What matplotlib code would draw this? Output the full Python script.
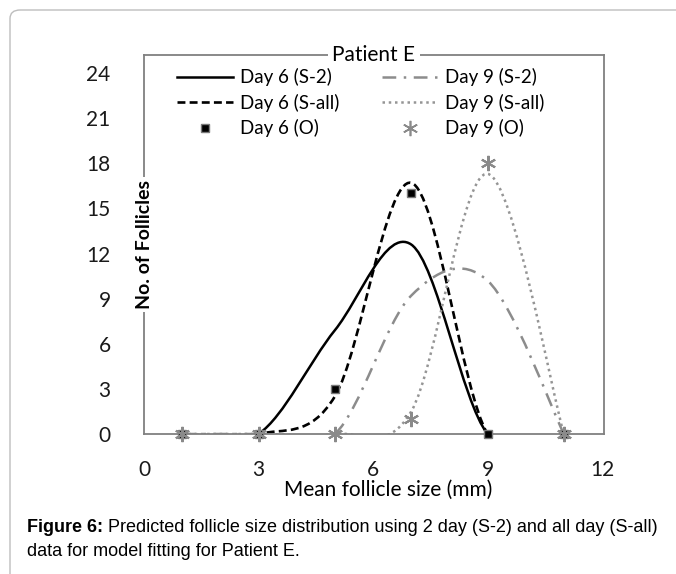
import numpy as np
import matplotlib
matplotlib.use('Agg')
import matplotlib.pyplot as plt
from matplotlib.path import Path
from matplotlib.patches import PathPatch, FancyBboxPatch
from matplotlib.lines import Line2D

# data
sizes = [1, 3, 5, 7, 9, 11]
day6_s2 = [0, 0, 6.9, 12.6, 0, 0]
day6_sall = [0, 0, 2.5, 16.7, 0, 0]
day6_obs = [0, 0, 3, 16, 0, 0]
day9_s2 = [0, 0, 0, 9.2, 10.2, 0]
day9_sall = [0, 0, 0, 1.5, 17.3, 0]
day9_obs = [0, 0, 0, 1, 18, 0]
xticks = [0, 3, 6, 9, 12]
yticks = [0, 3, 6, 9, 12, 15, 18, 21, 24]

plt.rcParams['font.family'] = ['Lato', 'DejaVu Sans']


def smooth_path(xs, ys):
    # Excel-like "smoothed line": cubic bezier through each point
    pts = np.column_stack([xs, ys]).astype(float)
    n = len(pts)
    verts = [pts[0]]
    codes = [Path.MOVETO]
    for i in range(n - 1):
        p0 = pts[max(i - 1, 0)]
        p1 = pts[i]
        p2 = pts[i + 1]
        p3 = pts[min(i + 2, n - 1)]
        verts += [p1 + (p2 - p0) / 6, p2 - (p3 - p1) / 6, p2]
        codes += [Path.CURVE4] * 3
    return Path(verts, codes)


fig = plt.figure(figsize=(6.76, 5.74), dpi=100)

# outer rounded frame of the figure panel
frame = FancyBboxPatch((10 / 676, -0.1), 1.2, 1 - 10 / 574 + 0.1,
                       boxstyle='round,pad=0,rounding_size=0.015',
                       transform=fig.transFigure, fill=False,
                       edgecolor='#bdbdbd', linewidth=1.0)
fig.add_artist(frame)

ax = fig.add_axes([144 / 676, 1 - 434 / 574, 460 / 676, 379 / 574])

styles = [
    (day6_s2, dict(color='black', linestyle='-', linewidth=1.8), 'Day 6 (S-2)'),
    (day6_sall, dict(color='black', linestyle=(0, (3, 1.6)), linewidth=1.9), 'Day 6 (S-all)'),
    (day9_s2, dict(color='#8c8c8c', linestyle=(0, (5.5, 3, 1, 3)), linewidth=1.8), 'Day 9 (S-2)'),
    (day9_sall, dict(color='#959595', linestyle=(0, (1, 1.5)), linewidth=1.8), 'Day 9 (S-all)'),
]
handles = {}
for ys, st, name in styles:
    ax.add_patch(PathPatch(smooth_path(sizes, ys), fill=False, capstyle='butt', **st))
    handles[name] = Line2D([], [], **st)

ax.plot(sizes, day6_obs, linestyle='none', marker='s', markersize=6,
        markerfacecolor='black', markeredgecolor='#7a7a7a', markeredgewidth=1.0,
        clip_on=False, zorder=4)
ax.plot(sizes, day9_obs, linestyle='none', marker=(6, 2, 0), markersize=11,
        color='#8a8a8a', markeredgewidth=1.5, clip_on=False, zorder=5)
handles['Day 6 (O)'] = Line2D([], [], linestyle='none', marker='s', markersize=6,
                              markerfacecolor='black', markeredgecolor='#7a7a7a')
handles['Day 9 (O)'] = Line2D([], [], linestyle='none', marker=(6, 2, 0), markersize=11,
                              color='#8a8a8a', markeredgewidth=1.2)

order = ['Day 6 (S-2)', 'Day 6 (S-all)', 'Day 6 (O)',
         'Day 9 (S-2)', 'Day 9 (S-all)', 'Day 9 (O)']
ax.legend([handles[k] for k in order], order, ncol=2, frameon=False,
          loc='upper left', bbox_to_anchor=(0.055, 0.985), fontsize=13.5,
          handlelength=3.0, handletextpad=0.35, columnspacing=2.3,
          labelspacing=0.4, borderaxespad=0)

ax.set_xlim(0, 12.05)
ax.set_ylim(0, 25.2)
ax.set_xticks(xticks)
ax.set_yticks(yticks)
ax.tick_params(length=0, labelsize=15, colors='#1a1a1a')
ax.tick_params(axis='y', pad=24)
ax.tick_params(axis='x', pad=19)
for sp in ax.spines.values():
    sp.set_color('#808080')
    sp.set_linewidth(1.3)

ax.text(0.5, 1.0, 'Patient E', transform=ax.transAxes, ha='center', va='center',
        fontsize=15, bbox=dict(facecolor='white', edgecolor='none', pad=3))
ax.text(0.0, 0.5, 'No. of Follicles', transform=ax.transAxes, ha='center', va='center',
        rotation=90, fontsize=14, fontweight='bold',
        bbox=dict(facecolor='white', edgecolor='none', pad=2))
ax.text(0.53, -0.148, 'Mean follicle size (mm)', transform=ax.transAxes,
        ha='center', va='center', fontsize=15)

cap_font = ['Liberation Sans', 'DejaVu Sans']
t1 = fig.text(27 / 676, 1 - 527 / 574, 'Figure 6:', fontsize=13, fontweight='bold',
              family=cap_font, va='center')
ax.annotate(' Predicted follicle size distribution using 2 day (S-2) and all day (S-all)',
            xy=(1, 0.5), xycoords=t1, va='center', fontsize=13, family=cap_font,
            annotation_clip=False)
fig.text(27 / 676, 1 - 551 / 574, 'data for model fitting for Patient E.', fontsize=13,
         family=cap_font, va='center')

plt.savefig('out.png', dpi=100)
